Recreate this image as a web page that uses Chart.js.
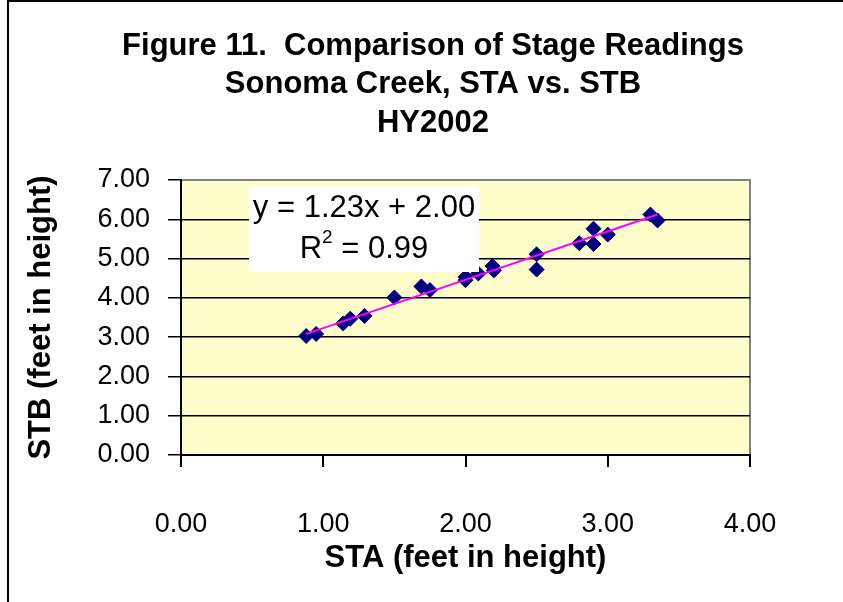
<!DOCTYPE html>
<html>
<head>
<meta charset="utf-8">
<script src="https://cdn.jsdelivr.net/npm/chart.js@4"></script>
<style>
  body { margin: 0; background: #fff; }
  #wrap { width: 843px; height: 602px; position: relative; }
</style>
</head>
<body>
<div id="wrap"><canvas id="stageChart"></canvas></div>
<script>
// STA vs STB stage readings (feet)
const staValues = [0.88, 0.95, 1.14, 1.19, 1.29, 1.50, 1.69, 1.75, 2.00, 2.00, 2.09, 2.19, 2.20, 2.50, 2.50, 2.80, 2.90, 2.90, 3.00, 3.30, 3.35];
const stbValues = [3.03, 3.08, 3.35, 3.47, 3.54, 4.01, 4.29, 4.20, 4.53, 4.45, 4.62, 4.81, 4.70, 5.11, 4.72, 5.39, 5.76, 5.37, 5.61, 6.12, 5.97];

// trendline shown in the figure
const trendSlope = 1.23;
const trendIntercept = 2.00;
const trendR2 = 0.99;

const titleLines = ['Figure 11.  Comparison of Stage Readings', 'Sonoma Creek, STA vs. STB', 'HY2002'];
const xTicks = [0, 1, 2, 3, 4];
const yTicks = [0, 1, 2, 3, 4, 5, 6, 7];

const FONT = '"Liberation Sans", Arial, sans-serif';

const points = staValues.map((x, i) => ({ x: x, y: stbValues[i] }));
const xMin = Math.min(...staValues);
const xMax = Math.max(...staValues);
const trend = [
    { x: xMin, y: trendSlope * xMin + trendIntercept },
    { x: xMax, y: trendSlope * xMax + trendIntercept }
];

// frame, plot background, title and equation label
const decorations = {
    id: 'decorations',
    beforeDraw(chart) {
        const ctx = chart.ctx;
        const a = chart.chartArea;
        ctx.save();
        ctx.fillStyle = '#FFFFCC';
        ctx.fillRect(a.left, a.top, a.right - a.left, a.bottom - a.top);
        ctx.strokeStyle = '#808080';
        ctx.lineWidth = 2;
        ctx.beginPath();
        ctx.moveTo(a.left, a.top);
        ctx.lineTo(a.right, a.top);
        ctx.lineTo(a.right, a.bottom);
        ctx.stroke();

        // outer frame (left and top edges visible)
        ctx.strokeStyle = '#000';
        ctx.lineWidth = 2;
        ctx.beginPath();
        ctx.moveTo(8, 602);
        ctx.lineTo(8, 1);
        ctx.lineTo(843, 1);
        ctx.stroke();

        ctx.fillStyle = '#000';
        ctx.font = 'bold 31px ' + FONT;
        ctx.textAlign = 'center';
        ctx.textBaseline = 'middle';
        titleLines.forEach((t, i) => ctx.fillText(t, 433, 46 + i * 38.5));
        ctx.restore();
    },
    afterDatasetsDraw(chart) {
        const ctx = chart.ctx;
        const a = chart.chartArea;
        const bx = a.left + 68, by = a.top + 6;
        ctx.save();
        ctx.fillStyle = '#fff';
        ctx.fillRect(bx, by, 230, 86);
        ctx.fillStyle = '#000';
        ctx.font = '31px ' + FONT;
        ctx.textBaseline = 'middle';
        ctx.textAlign = 'center';
        ctx.fillText('y = ' + trendSlope.toFixed(2) + 'x + ' + trendIntercept.toFixed(2), bx + 115, by + 22);
        // R² with a raised 2
        const rest = ' = ' + trendR2.toFixed(2);
        ctx.textAlign = 'left';
        const wR = ctx.measureText('R').width;
        const wRest = ctx.measureText(rest).width;
        ctx.font = '19px ' + FONT;
        const w2 = ctx.measureText('2').width;
        let x0 = bx + 115 - (wR + w2 + wRest) / 2;
        ctx.font = '31px ' + FONT;
        ctx.fillText('R', x0, by + 63);
        ctx.font = '19px ' + FONT;
        ctx.fillText('2', x0 + wR, by + 52);
        ctx.font = '31px ' + FONT;
        ctx.fillText(rest, x0 + wR + w2, by + 63);
        ctx.restore();
    }
};

new Chart(document.getElementById('stageChart'), {
    type: 'scatter',
    data: {
        datasets: [
            {
                label: 'STB vs STA',
                data: points,
                pointStyle: 'rectRot',
                pointRadius: 7.5,
                pointHoverRadius: 7.5,
                backgroundColor: '#000080',
                borderColor: '#000080',
                borderWidth: 1,
                order: 1
            },
            {
                label: 'Linear trend',
                type: 'line',
                data: trend,
                borderColor: '#FF00FF',
                borderWidth: 2,
                pointRadius: 0,
                fill: false,
                order: 0
            }
        ]
    },
    options: {
        responsive: true,
        maintainAspectRatio: false,
        animation: false,
        layout: { padding: { top: 180, right: 93, left: 0, bottom: 0 } },
        plugins: {
            legend: { display: false },
            tooltip: { enabled: false },
            title: { display: false }
        },
        scales: {
            x: {
                type: 'linear',
                min: 0,
                max: 4,
                afterBuildTicks: s => { s.ticks = xTicks.map(v => ({ value: v })); },
                afterFit: s => { s.height = 147; },
                border: { color: '#000', width: 2 },
                grid: { drawOnChartArea: false, drawTicks: true, tickLength: 12, color: '#000', lineWidth: 2 },
                ticks: {
                    padding: 41,
                    color: '#000',
                    font: { family: FONT, size: 27 },
                    callback: v => v.toFixed(2)
                },
                title: {
                    display: true,
                    text: 'STA (feet in height)',
                    color: '#000',
                    font: { family: FONT, size: 31, weight: 'bold' },
                    padding: { top: 0, bottom: 25 }
                }
            },
            y: {
                type: 'linear',
                min: 0,
                max: 7,
                afterBuildTicks: s => { s.ticks = yTicks.map(v => ({ value: v })); },
                afterFit: s => { s.width = 181; },
                border: { color: '#000', width: 2 },
                grid: {
                    color: c => (c.tick && c.tick.value === 7 ? 'rgba(0,0,0,0)' : '#000'),
                    tickColor: '#000',
                    lineWidth: 1.5,
                    tickLength: 13
                },
                ticks: {
                    padding: 18,
                    color: '#000',
                    font: { family: FONT, size: 27 },
                    callback: v => v.toFixed(2)
                },
                title: {
                    display: true,
                    text: 'STB (feet in height)',
                    color: '#000',
                    font: { family: FONT, size: 31, weight: 'bold' },
                    padding: { top: 23, bottom: 0 }
                }
            }
        }
    },
    plugins: [decorations]
});
</script>
</body>
</html>
